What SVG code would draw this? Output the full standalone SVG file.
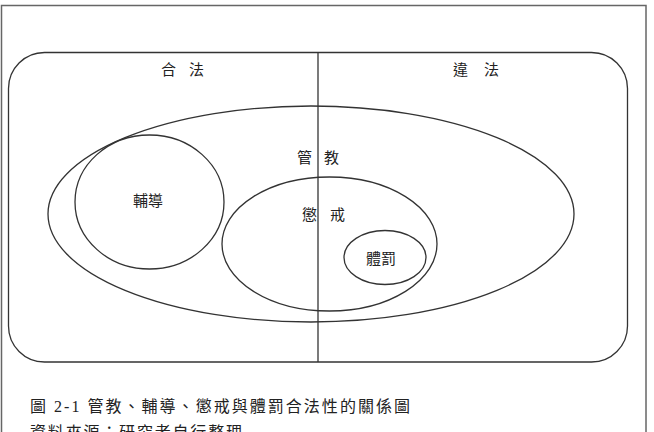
<svg xmlns="http://www.w3.org/2000/svg" width="654" height="432" viewBox="0 0 654 432">
<style>
.ln{fill:none;stroke:#333;stroke-width:1.3}
.t{font-family:"Liberation Serif","Noto Sans CJK TC",serif;font-size:15px;fill:#222}
.c{font-family:"Liberation Serif","Noto Sans CJK TC",serif;font-size:16px;fill:#222}
</style>
<rect x="0" y="0" width="654" height="432" fill="#fff"/>
<rect id="frame" x="1.5" y="5.5" width="644.5" height="440" fill="none" stroke="#666" stroke-width="1.5"/>
<g id="region">
<rect x="8.5" y="52.5" width="619" height="309.5" rx="36" ry="36" class="ln"/>
<text class="t" x="161" y="75">合</text><text class="t" x="189" y="75">法</text>
<text class="t" x="453" y="75">違</text><text class="t" x="484" y="75">法</text>
</g>
<g id="connectors">
<line x1="318" y1="52.5" x2="318" y2="362" class="ln"/>
</g>
<g id="guanjiao">
<ellipse cx="311" cy="214" rx="263" ry="108" class="ln"/>
<text class="t" x="297" y="163">管</text><text class="t" x="324" y="163">教</text>
</g>
<g id="fudao">
<ellipse cx="149.5" cy="202" rx="74.5" ry="67" class="ln"/>
<text class="t" x="133" y="206">輔導</text>
</g>
<g id="chengjie">
<ellipse cx="329.5" cy="244" rx="107.5" ry="67" class="ln"/>
<text class="t" x="302" y="220">懲</text><text class="t" x="330" y="220">戒</text>
</g>
<g id="tifa">
<ellipse cx="385" cy="257.5" rx="41" ry="27" class="ln"/>
<text class="t" x="366" y="264">體罰</text>
</g>
<g id="caption">
<text class="c" x="30" y="412" textLength="380" lengthAdjust="spacing">圖 2-1 管教、輔導、懲戒與體罰合法性的關係圖</text>
<text class="c" x="30" y="438" textLength="212" lengthAdjust="spacing">資料來源：研究者自行整理</text>
</g>
</svg>
